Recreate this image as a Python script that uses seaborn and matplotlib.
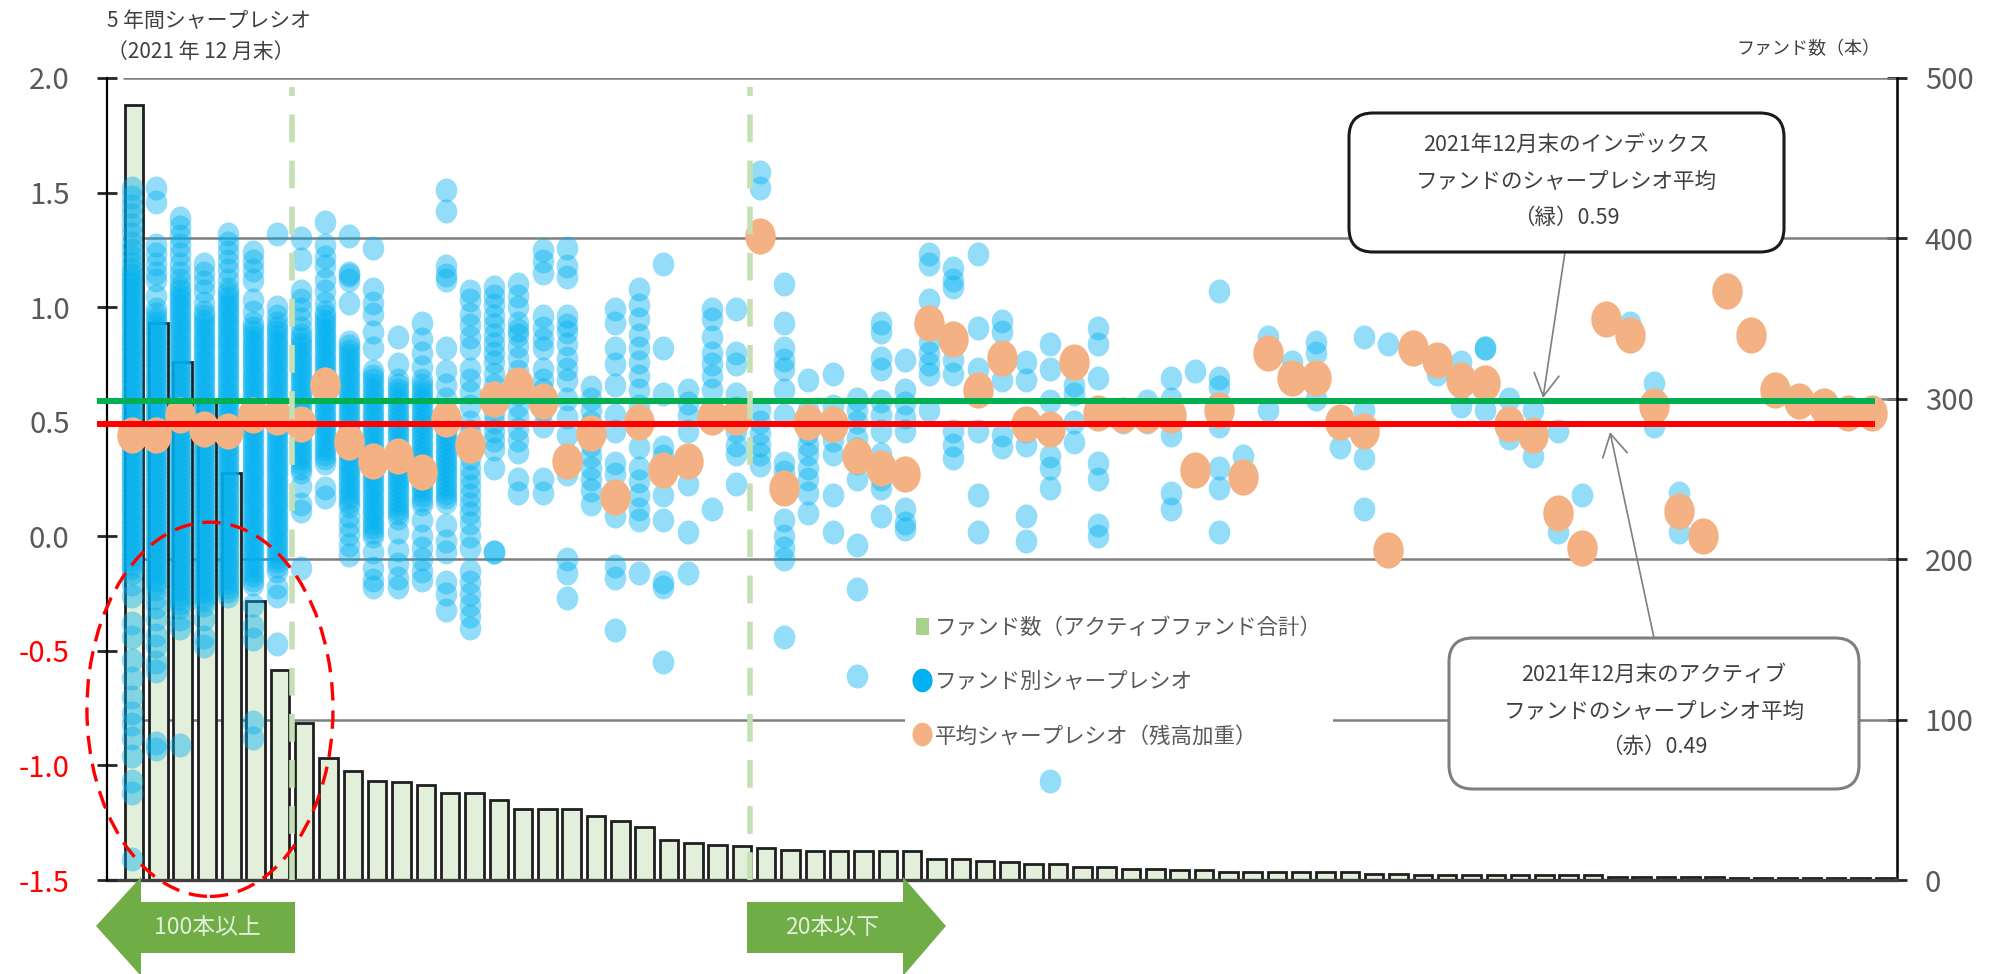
import numpy as np
import pandas as pd
import matplotlib
matplotlib.use("Agg")
import matplotlib.pyplot as plt
from matplotlib.path import Path
from matplotlib.markers import MarkerStyle
from matplotlib.transforms import Affine2D, IdentityTransform, blended_transform_factory
from matplotlib.patches import Ellipse, FancyBboxPatch, Polygon, Patch, FancyArrowPatch
from matplotlib.lines import Line2D
import seaborn as sns

# ---------------------------------------------------------------- data
# number of active funds in each category (right axis)
fund_counts = [483, 347, 323, 299, 254, 174, 131, 98, 76, 68,
               62, 61, 59, 54, 54, 50, 44, 44, 44, 40,
               37, 33, 25, 23, 22, 21, 20, 19, 18, 18,
               18, 18, 18, 13, 13, 12, 11, 10, 10, 8,
               8, 7, 7, 6, 6, 5, 5, 5, 5, 5,
               5, 4, 4, 3, 3, 3, 3, 3, 3, 3,
               3, 2, 2, 2, 2, 2, 1, 1, 1, 1,
               1, 1, 1]

# balance-weighted average Sharpe ratio of each category
weighted_sharpe = [0.44, 0.44, 0.53, 0.47, 0.46, 0.53, 0.52, 0.49, 0.66, 0.41,
                   0.33, 0.35, 0.28, 0.51, 0.40, 0.60, 0.66, 0.59, 0.33, 0.45,
                   0.17, 0.50, 0.29, 0.33, 0.52, 0.52, 1.31, 0.21, 0.50, 0.49,
                   0.35, 0.30, 0.27, 0.93, 0.86, 0.64, 0.78, 0.49, 0.47, 0.76,
                   0.54, 0.53, 0.53, 0.53, 0.29, 0.55, 0.26, 0.80, 0.69, 0.69,
                   0.50, 0.46, -0.06, 0.82, 0.77, 0.68, 0.67, 0.49, 0.44, 0.10,
                   -0.05, 0.95, 0.88, 0.57, 0.11, 0.00, 1.07, 0.88, 0.64, 0.59,
                   0.57, 0.54, 0.54]

# Sharpe ratios of individual funds, one list per category
fund_sharpe = [
    # 0
    [1.52, 1.48, 1.44, 1.40, 1.36, 1.32, 1.28, 1.25, 1.22, 1.19, 1.16,
     1.14, 1.12, 1.10, 1.08, 1.06, 1.04, 1.02, 1.00, 0.98, 0.96, 0.94, 0.92, 0.90,
     0.88, 0.86, 0.84, 0.82, 0.80, 0.78, 0.76, 0.74, 0.72, 0.70, 0.68, 0.66, 0.64,
     0.62, 0.60, 0.58, 0.56, 0.54, 0.52, 0.50, 0.48, 0.46, 0.44, 0.42, 0.40, 0.38,
     0.36, 0.34, 0.32, 0.30, 0.28, 0.26, 0.24, 0.22, 0.20, 0.18, 0.16, 0.14, 0.12,
     0.10, 0.08, 0.06, 0.04, 0.02, 0.00, -0.02, -0.04, -0.06, -0.08, -0.10, -0.12,
     -0.14, -0.16,
     -0.21, -0.26, -0.38, -0.44, -0.54, -0.62, -0.70, -0.77, -0.82, -0.88, -0.96,
     -1.07, -1.12, -1.41],
    # 1
    [1.52, 1.46, 1.27, 1.23, 1.19, 1.15, 1.12, 1.05,
     0.99, 0.97, 0.95, 0.93, 0.91, 0.89, 0.87, 0.85, 0.83, 0.81, 0.79, 0.77, 0.75,
     0.73, 0.71, 0.69, 0.67, 0.65, 0.63, 0.61, 0.59, 0.57, 0.55, 0.53, 0.51, 0.49,
     0.47, 0.45, 0.43, 0.41, 0.39, 0.37, 0.35, 0.33, 0.31, 0.29, 0.27, 0.25, 0.23,
     0.21, 0.19, 0.17, 0.15, 0.13, 0.11, 0.09, 0.07, 0.05, 0.03, 0.01, -0.01, -0.03,
     -0.05, -0.07, -0.09, -0.11, -0.13, -0.15, -0.17, -0.19, -0.21, -0.23,
     -0.27, -0.31, -0.36, -0.43, -0.48, -0.55, -0.59, -0.90, -0.93],
    # 2
    [1.39, 1.35, 1.31, 1.27, 1.23, 1.19, 1.15, 1.12,
     1.09, 1.07, 1.05, 1.03, 1.01, 0.99, 0.97, 0.95, 0.93, 0.91, 0.89, 0.87, 0.85,
     0.83, 0.81, 0.79, 0.77, 0.75, 0.73, 0.71, 0.69, 0.67, 0.65, 0.63, 0.61, 0.59,
     0.57, 0.55, 0.53, 0.51, 0.49, 0.47, 0.45, 0.43, 0.41, 0.39, 0.37, 0.35, 0.33,
     0.31, 0.29, 0.27, 0.25, 0.23, 0.21, 0.19, 0.17, 0.15, 0.13, 0.11, 0.09, 0.07,
     0.05, 0.03, 0.01, -0.01, -0.03, -0.05, -0.07, -0.09, -0.11, -0.13, -0.15,
     -0.17, -0.19, -0.21, -0.23, -0.25, -0.27, -0.29, -0.31,
     -0.36, -0.40, -0.91],
    # 3
    [1.19, 1.15, 1.11, 1.07, 1.02,
     0.98, 0.96, 0.94, 0.92, 0.90, 0.88, 0.86, 0.84, 0.82, 0.80, 0.78, 0.76, 0.74,
     0.72, 0.70, 0.68, 0.66, 0.64, 0.62, 0.60, 0.58, 0.56, 0.54, 0.52, 0.50, 0.48,
     0.46, 0.44, 0.42, 0.40, 0.38, 0.36, 0.34, 0.32, 0.30, 0.28, 0.26, 0.24, 0.22,
     0.20, 0.18, 0.16, 0.14, 0.12, 0.10, 0.08, 0.06, 0.04, 0.02, 0.00, -0.02, -0.04,
     -0.06, -0.08, -0.10, -0.12, -0.14, -0.16, -0.18, -0.20, -0.22, -0.24, -0.26,
     -0.28, -0.30,
     -0.36, -0.44, -0.48],
    # 4
    [1.32, 1.28, 1.24, 1.20, 1.16, 1.12,
     1.08, 1.06, 1.04, 1.02, 1.00, 0.98, 0.96, 0.94, 0.92, 0.90, 0.88, 0.86, 0.84,
     0.82, 0.80, 0.78, 0.76, 0.74, 0.72, 0.70, 0.68, 0.66, 0.64, 0.62, 0.60, 0.58,
     0.56, 0.54, 0.52, 0.50, 0.48, 0.46, 0.44, 0.42, 0.40, 0.38, 0.36, 0.34, 0.32,
     0.30, 0.28, 0.26, 0.24, 0.22, 0.20, 0.18, 0.16, 0.14, 0.12, 0.10, 0.08, 0.06,
     0.04, 0.02, 0.00, -0.02, -0.04, -0.06, -0.08, -0.10, -0.12, -0.14, -0.16,
     -0.18, -0.20, -0.22, -0.24, -0.26],
    # 5
    [1.24, 1.20, 1.16, 1.12, 1.03, 0.98,
     0.93, 0.91, 0.89, 0.87, 0.85, 0.83, 0.81, 0.79, 0.77, 0.75, 0.73, 0.71, 0.69,
     0.67, 0.65, 0.63, 0.61, 0.59, 0.57, 0.55, 0.53, 0.51, 0.49, 0.47, 0.45, 0.43,
     0.41, 0.39, 0.37, 0.35, 0.33, 0.31, 0.29, 0.27, 0.25, 0.23, 0.21, 0.19, 0.17,
     0.15, 0.13, 0.11, 0.09, 0.07, 0.05, 0.03, 0.01, -0.01, -0.03, -0.05, -0.07,
     -0.09, -0.11, -0.13, -0.15, -0.17, -0.19, -0.21,
     -0.30, -0.39, -0.45, -0.81, -0.88],
    # 6
    [1.32, 1.00, 0.96,
     0.93, 0.91, 0.89, 0.87, 0.85, 0.83, 0.81, 0.79, 0.77, 0.75, 0.73, 0.71, 0.69,
     0.67, 0.65, 0.63, 0.61, 0.59, 0.57, 0.55, 0.53, 0.51, 0.49, 0.47, 0.45, 0.43,
     0.41, 0.39, 0.37, 0.35, 0.33, 0.31, 0.29, 0.27, 0.25, 0.23, 0.21, 0.19, 0.17,
     0.15, 0.13, 0.11, 0.09, 0.07, 0.05, 0.03, 0.01, -0.01, -0.03, -0.05, -0.07,
     -0.09, -0.11, -0.13, -0.15,
     -0.22, -0.26, -0.47],
    # 7
    [1.30, 1.21, 1.07, 1.03, 0.99, 0.95, 0.91,
     0.88, 0.86, 0.84, 0.82, 0.80, 0.78, 0.76, 0.74, 0.72, 0.70, 0.68, 0.66, 0.64,
     0.62, 0.60, 0.58, 0.56, 0.54, 0.52, 0.50, 0.48, 0.46, 0.44, 0.42, 0.40, 0.38,
     0.36, 0.34, 0.32, 0.30, 0.28,
     0.22, 0.14, 0.11, -0.14],
    # 8
    [1.37, 1.27, 1.22, 1.18, 1.12, 1.07, 1.02,
     0.98, 0.96, 0.94, 0.92, 0.90, 0.88, 0.86, 0.84, 0.82, 0.80, 0.78, 0.76, 0.74,
     0.72, 0.70, 0.68, 0.66, 0.64, 0.62, 0.60, 0.58, 0.56, 0.54, 0.52, 0.50, 0.48,
     0.46, 0.44, 0.42, 0.40, 0.38, 0.36, 0.34, 0.32,
     0.21, 0.17],
    # 9
    [1.31, 1.15, 1.14, 1.12, 1.02,
     0.85, 0.83, 0.81, 0.79, 0.77, 0.75, 0.73, 0.71, 0.69, 0.67, 0.65, 0.63, 0.61,
     0.59, 0.57, 0.55, 0.53, 0.51, 0.49, 0.47, 0.45, 0.43, 0.41, 0.39, 0.37, 0.35,
     0.33, 0.31, 0.29, 0.27, 0.25, 0.23, 0.21, 0.19, 0.17, 0.15, 0.13,
     0.09, 0.05, 0.01, -0.04, -0.08],
    # 10
    [1.26, 1.08, 1.02, 0.97, 0.89, 0.82,
     0.72, 0.70, 0.68, 0.66, 0.64, 0.62, 0.60, 0.58, 0.56, 0.54, 0.52, 0.50, 0.48,
     0.46, 0.44, 0.42, 0.40, 0.38, 0.36, 0.34, 0.32, 0.30, 0.28, 0.26, 0.24, 0.22,
     0.20, 0.18, 0.16, 0.14, 0.12, 0.10, 0.08, 0.06, 0.04, 0.02, 0.00,
     -0.07, -0.14, -0.19, -0.22],
    # 11
    [0.87, 0.75,
     0.68, 0.66, 0.64, 0.62, 0.60, 0.58, 0.56, 0.54, 0.52, 0.50, 0.48, 0.46, 0.44,
     0.42, 0.40, 0.38, 0.36, 0.34, 0.32, 0.30, 0.28, 0.26, 0.24, 0.22, 0.20, 0.18,
     0.16, 0.14, 0.12, 0.10, 0.08,
     0.02, -0.06, -0.12, -0.18, -0.22],
    # 12
    [0.93, 0.86, 0.80, 0.74,
     0.68, 0.66, 0.64, 0.62, 0.60, 0.58, 0.56, 0.54, 0.52, 0.50, 0.48, 0.46, 0.44,
     0.42, 0.40, 0.38, 0.36, 0.34, 0.32, 0.30, 0.28, 0.26, 0.24, 0.22, 0.20, 0.18,
     0.16, 0.14,
     0.07, 0.00, -0.05, -0.10, -0.15, -0.19],
    # 13
    [1.51, 1.42, 1.18, 1.14, 1.12, 0.82, 0.72, 0.66, 0.60,
     0.55, 0.53, 0.51, 0.49, 0.47, 0.45, 0.43, 0.41, 0.39, 0.37, 0.35, 0.33, 0.31,
     0.29, 0.27, 0.25, 0.23, 0.21, 0.19, 0.17, 0.15,
     0.05, -0.02, -0.07, -0.20, -0.25, -0.32],
    # 14
    [1.07, 1.03, 0.97, 0.92, 0.87, 0.82, 0.73, 0.68, 0.63, 0.57, 0.50, 0.46, 0.42,
     0.38, 0.34, 0.30, 0.26, 0.22, 0.18, 0.14, 0.10, 0.06, 0.00, -0.05, -0.15,
     -0.20, -0.25, -0.30, -0.35, -0.40],
    # 15
    [1.09, 1.05, 1.01, 0.96, 0.92, 0.88, 0.84, 0.80, 0.76, 0.71, 0.66, 0.62, 0.58,
     0.54, 0.50, 0.46, 0.42, 0.38, 0.30, -0.07, -0.07],
    # 16
    [1.10, 1.05, 1.00, 0.93, 0.90, 0.88, 0.83, 0.78, 0.72, 0.67, 0.62, 0.57, 0.52,
     0.47, 0.42, 0.37, 0.25, 0.19],
    # 17
    [1.25, 1.20, 1.15, 0.96, 0.91, 0.86, 0.82, 0.73, 0.68, 0.64, 0.55, 0.48, 0.25,
     0.19],
    # 18
    [1.26, 1.18, 1.13, 0.96, 0.92, 0.89, 0.84, 0.78, 0.73, 0.68, 0.60, 0.52, 0.44,
     0.27, -0.10, -0.16, -0.27],
    [0.65, 0.60, 0.55, 0.50, 0.45, 0.40, 0.35, 0.30, 0.25, 0.20, 0.14],
    [0.99, 0.93, 0.82, 0.75, 0.66, 0.53, 0.46, 0.32, 0.27, 0.09, -0.13, -0.18, -0.41],
    [1.08, 1.01, 0.95, 0.88, 0.82, 0.76, 0.70, 0.64, 0.57, 0.39, 0.30, 0.24, 0.18,
     0.12, 0.07, -0.16],
    [1.19, 0.82, 0.62, 0.39, 0.35, 0.18, 0.07, -0.20, -0.22, -0.55],
    [0.64, 0.58, 0.53, 0.46, 0.23, 0.02, -0.16],
    [0.99, 0.95, 0.87, 0.80, 0.75, 0.70, 0.64, 0.12],
    [0.99, 0.80, 0.75, 0.62, 0.56, 0.46, 0.40, 0.36, 0.23],
    [1.59, 1.52, 0.55, 0.50, 0.45, 0.40, 0.36, 0.31],
    [1.10, 0.93, 0.82, 0.77, 0.73, 0.64, 0.53, 0.32, 0.28, 0.07, 0.00, -0.05, -0.10,
     -0.44],
    [0.68, 0.55, 0.50, 0.45, 0.40, 0.36, 0.30, 0.25, 0.19, 0.10],
    [0.71, 0.57, 0.48, 0.42, 0.36, 0.18, 0.02],
    [0.60, 0.55, 0.50, 0.43, 0.38, 0.32, 0.25, -0.04, -0.23, -0.61],
    [0.93, 0.89, 0.78, 0.73, 0.59, 0.53, 0.46, 0.36, 0.30, 0.25, 0.21, 0.09],
    [0.77, 0.64, 0.58, 0.52, 0.46, 0.12, 0.06, 0.03],
    [1.23, 1.19, 1.03, 0.85, 0.80, 0.75, 0.71, 0.55],
    [1.17, 1.12, 1.09, 0.77, 0.71, 0.46, 0.40, 0.34],
    [1.23, 0.91, 0.73, 0.46, 0.18, 0.02],
    [0.94, 0.89, 0.68, 0.44, 0.39],
    [0.76, 0.68, 0.46, 0.40, 0.09, -0.02],
    [0.84, 0.73, 0.59, 0.35, 0.30, 0.21, -1.07],
    [0.66, 0.62, 0.50, 0.41],
    [0.91, 0.84, 0.69, 0.32, 0.25, 0.05, 0.00],
    [0.50, 0.53],
    [0.59, 0.50],
    [0.69, 0.60, 0.44, 0.19, 0.12],
    [0.72],
    [1.07, 0.69, 0.65, 0.48, 0.30, 0.21, 0.02],
    [0.35, 0.27],
    [0.87, 0.55],
    [0.76],
    [0.85, 0.80, 0.60],
    [0.39],
    [0.87, 0.55, 0.34, 0.12],
    [0.84, -0.08],
    [0.82],
    [0.71],
    [0.76, 0.57],
    [0.82, 0.82, 0.55],
    [0.60, 0.43],
    [0.55, 0.35],
    [0.46, 0.02],
    [0.18],
    [0.95],
    [0.93],
    [0.67, 0.48],
    [0.19, 0.02],
    [0.00],
    [1.07],
    [0.88],
    [0.64, 0.62],
    [0.59],
    [0.57],
    [0.54],
    [0.54],
]

index_fund_avg = 0.59    # index funds, end of Dec 2021
active_fund_avg = 0.49   # active funds, end of Dec 2021

sharpe_ticks = [-1.5, -1.0, -0.5, 0.0, 0.5, 1.0, 1.5, 2.0]
count_ticks = [0, 100, 200, 300, 400, 500]
boundary_100 = 6.5       # categories left of this hold 100 funds or more
boundary_20 = 25.35      # categories right of this hold 20 funds or fewer

legend_labels = ["ファンド数（アクティブファンド合計）",
                 "ファンド別シャープレシオ",
                 "平均シャープレシオ（残高加重）"]

# ---------------------------------------------------------------- frames
cats = np.arange(len(fund_counts))
bars_df = pd.DataFrame({"cat": cats, "count": fund_counts})
avg_df = pd.DataFrame({"cat": cats, "sharpe": weighted_sharpe})
funds_df = pd.DataFrame(
    [(i, v) for i, vals in enumerate(fund_sharpe) for v in vals],
    columns=["cat", "sharpe"])

# ---------------------------------------------------------------- style
sns.set_theme(style="white")
plt.rcParams["font.family"] = ["Noto Sans CJK JP", "DejaVu Sans"]
plt.rcParams["axes.unicode_minus"] = False

W, H, DPI = 2001, 974, 100
fig = plt.figure(figsize=(W / DPI, H / DPI), dpi=DPI)
fig.patch.set_facecolor("white")

rect = [107 / W, 1 - 880 / H, (1897 - 107) / W, (880 - 78) / H]
# bar layer (fund counts, right axis) and scatter layer (Sharpe ratios, left axis)
axc = fig.add_axes(rect)
ax = fig.add_axes(rect)
axc.set_zorder(0)
ax.set_zorder(1)
ax.patch.set_visible(False)


def ellipse_marker(aspect):
    return MarkerStyle(Affine2D().scale(aspect, 1.0).transform_path(Path.unit_circle()))


BLUE = "#00B0F0"
ORANGE = "#F4B183"
TEXT = "#595959"
DARK = "#404040"

# ---------------------------------------------------------------- counts (right axis)
axc.hlines(count_ticks, -0.45, 72.5, colors="#7F7F7F", lw=1.8, zorder=1)
sns.barplot(data=bars_df, x="cat", y="count", native_scale=True, width=0.76,
            color="#E2EFDA", saturation=1, edgecolor="#1F1F1F", linewidth=2.0,
            errorbar=None, ax=axc, zorder=2)
axc.set_xlim(-1.11, 72.5)
axc.set_ylim(0, 500)
axc.set_yticks(count_ticks)
axc.set_yticklabels([str(t) for t in count_ticks])
axc.set_xticks([])
axc.set_ylabel("")
axc.set_xlabel("")
axc.yaxis.tick_right()

# ---------------------------------------------------------------- Sharpe ratios (left axis)
sns.scatterplot(data=funds_df, x="cat", y="sharpe", marker=ellipse_marker(0.9),
                s=300, color=BLUE, alpha=0.42, linewidth=0, ax=ax, zorder=3,
                legend=False)
sns.scatterplot(data=avg_df, x="cat", y="sharpe", marker=ellipse_marker(0.84),
                s=680, color=ORANGE, alpha=1.0, linewidth=0, ax=ax, zorder=4,
                legend=False)

ax.hlines(index_fund_avg, -1.44, 72.13, color="#00B050", lw=4.3, zorder=5, clip_on=False)
ax.hlines(active_fund_avg, -1.44, 72.13, color="#FF0000", lw=4.3, zorder=5, clip_on=False)

# dashed group boundaries, placed between bars
bound_tr = blended_transform_factory(axc.transData, ax.transData)
for b in (boundary_100, boundary_20):
    ax.add_line(Line2D([b, b], [-1.5, 1.96], transform=bound_tr, color="#C5E0B4",
                       lw=4, linestyle=(0, (5, 3.3)), zorder=6))

ax.add_patch(Ellipse((3.24, -0.755), width=10.18, height=1.633, fill=False,
                     edgecolor="#FF0000", lw=2.4, linestyle=(0, (5.5, 3)),
                     clip_on=False, zorder=7))

ax.set_xlim(-1.02, 73.04)
ax.set_ylim(-1.5, 2.0)
ax.set_yticks(sharpe_ticks)
ax.set_yticklabels([f"{t:.1f}" for t in sharpe_ticks])
ax.set_xticks([])
ax.set_xlabel("")
ax.set_ylabel("")

ax.tick_params(axis="y", direction="inout", length=14, width=2, color="#262626",
               pad=20, labelsize=21, left=True, right=False, labelleft=True,
               labelright=False)
for lab, t in zip(ax.get_yticklabels(), sharpe_ticks):
    lab.set_color("#FF0000" if t < 0 else TEXT)
axc.tick_params(axis="y", direction="inout", length=14, width=2, color="#262626",
                pad=13, labelsize=21, labelcolor=TEXT, right=True, left=False,
                labelright=True, labelleft=False)

for a in (ax, axc):
    for s in a.spines.values():
        s.set_visible(False)
ax.spines["left"].set_visible(True)
ax.spines["left"].set_color("#000000")
ax.spines["left"].set_linewidth(1.6)
axc.spines["bottom"].set_visible(True)
axc.spines["bottom"].set_color("#404040")
axc.spines["bottom"].set_linewidth(2.4)
axc.spines["right"].set_visible(True)
axc.spines["right"].set_color("#000000")
axc.spines["right"].set_linewidth(1.8)

# ---------------------------------------------------------------- texts
def ftext(x, y, s, **kw):
    fig.text(x / W, 1 - y / H, s, **kw)


ftext(107, 21, "5 年間シャープレシオ", fontsize=15, color=DARK, ha="left", va="center")
ftext(107, 52, "（2021 年 12 月末）", fontsize=15, color=DARK, ha="left", va="center")
ftext(1880, 49, "ファンド数（本）", fontsize=13, color=DARK, ha="right", va="center")

# legend
handles = [Patch(facecolor="#A9D18E", edgecolor="none"),
           Line2D([], [], linestyle="", marker=ellipse_marker(0.85), markersize=17,
                  markerfacecolor=BLUE, markeredgewidth=0),
           Line2D([], [], linestyle="", marker=ellipse_marker(0.85), markersize=17,
                  markerfacecolor=ORANGE, markeredgewidth=0)]
leg = fig.legend(handles, legend_labels, loc="upper left",
                 bbox_to_anchor=(905 / W, 1 - 606 / H), frameon=True,
                 fontsize=15.5, labelcolor=TEXT, handlelength=0.6,
                 handleheight=0.8, handletextpad=0.3, labelspacing=1.5,
                 borderpad=0.5, borderaxespad=0)
leg.get_frame().set_facecolor("white")
leg.get_frame().set_edgecolor("none")
leg.get_frame().set_alpha(1)
leg.set_zorder(8)

# callout boxes
def callout(x0, y0, x1, y1, edge, lw):
    box = FancyBboxPatch((x0, H - y1), x1 - x0, y1 - y0,
                         boxstyle="round,pad=0,rounding_size=24",
                         transform=IdentityTransform(), facecolor="white",
                         edgecolor=edge, linewidth=lw, zorder=10)
    fig.add_artist(box)


def pointer(p0, p1):
    arr = FancyArrowPatch((p0[0], H - p0[1]), (p1[0], H - p1[1]),
                          transform=IdentityTransform(),
                          arrowstyle="->,head_length=0.8,head_width=0.45",
                          mutation_scale=20, color="#7F7F7F", lw=1.2,
                          shrinkA=0, shrinkB=0, zorder=9)
    fig.add_artist(arr)


callout(1349, 113, 1784, 252, "#1A1A1A", 2.2)
pointer((1565, 252), (1543, 398))
for y, s in zip([145, 182, 218],
                ["2021年12月末のインデックス", "ファンドのシャープレシオ平均",
                 f"（緑）{index_fund_avg:.2f}"]):
    ftext(1566, y, s, fontsize=15.5, color=DARK, ha="center", va="center", zorder=11)

callout(1449, 638, 1859, 789, "#7F7F7F", 2.2)
pointer((1654, 638), (1610, 432))
for y, s in zip([675, 712, 747],
                ["2021年12月末のアクティブ", "ファンドのシャープレシオ平均",
                 f"（赤）{active_fund_avg:.2f}"]):
    ftext(1654, y, s, fontsize=15.5, color=DARK, ha="center", va="center", zorder=11)

# range arrows under the bars
GREEN = "#70AD47"
left_arrow = [(96, 926), (141, 877), (141, 902), (295, 902), (295, 953),
              (141, 953), (141, 976), (96, 926)]
right_arrow = [(946, 926), (903, 877), (903, 902), (747, 902), (747, 953),
               (903, 953), (903, 976), (946, 926)]
for pts in (left_arrow, right_arrow):
    fig.add_artist(Polygon([(x, H - y) for x, y in pts], closed=True,
                           transform=IdentityTransform(), facecolor=GREEN,
                           edgecolor="none", zorder=10))
ftext(207, 928, "100本以上", fontsize=16.5, color="#E2EFDA", ha="center", va="center", zorder=11)
ftext(832, 928, "20本以下", fontsize=16.5, color="#E2EFDA", ha="center", va="center", zorder=11)

fig.savefig("out.png", dpi=DPI, facecolor="white")
